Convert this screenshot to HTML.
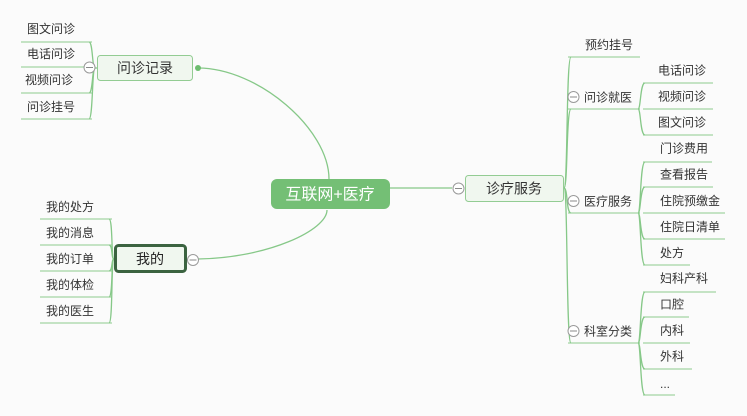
<!DOCTYPE html>
<html><head><meta charset="utf-8">
<style>
html,body{margin:0;padding:0;background:#fbfbfb;}
svg{display:block;}
text{font-family:"Liberation Sans","Noto Sans CJK SC",sans-serif;}
</style></head>
<body>
<svg width="747" height="416" viewBox="0 0 747 416" xmlns="http://www.w3.org/2000/svg">
<rect width="747" height="416" fill="#fbfbfb"/>
<g fill="none" stroke="#86c888" stroke-width="1.3">
<!-- main curves -->
<path d="M198,68 C258,68 329,129 329,179"/>
<path d="M327,210 C327,230 268,258 198,259"/>
<path d="M390,188 L452,188"/>
<!-- left spine 问诊记录 -->
<path d="M97,68 L95,68"/>
<path d="M95,68 C92,68 93,42 89,42"/>
<path d="M95,68 C92,68 93,67 89,67"/>
<path d="M95,68 C92,68 93,93 89,93"/>
<path d="M95,68 C92,68 93,119 89,119"/>
<!-- left spine 我的 -->
<path d="M114,259 C111,259 113,219 109,219"/>
<path d="M114,259 C111,259 113,245 109,245"/>
<path d="M114,259 C111,259 113,271 109,271"/>
<path d="M114,259 C111,259 113,297 109,297"/>
<path d="M114,259 C111,259 113,323 109,323"/>
<!-- right spine -->
<path d="M564,188 C568,188 566,57 571,57"/>
<path d="M564,188 C568,188 566,109 571,109"/>
<path d="M564,188 C568,188 566,213 571,213"/>
<path d="M564,188 C568,188 566,343 571,343"/>
<!-- sub spines -->
<path d="M638,109 C641,109 640,83 645,83"/>
<path d="M638,109 C641,109 640,135 645,135"/>
<path d="M638,213 C641,213 640,162 645,162"/>
<path d="M638,213 C641,213 640,187 645,187"/>
<path d="M638,213 C641,213 640,239 645,239"/>
<path d="M638,213 C641,213 640,265 645,265"/>
<path d="M638,343 C641,343 640,292 645,292"/>
<path d="M638,343 C641,343 640,317 645,317"/>
<path d="M638,343 C641,343 640,369 645,369"/>
<path d="M638,343 C641,343 640,395 645,395"/>
</g>
<g stroke="#8ccb8e" stroke-width="1">
<!-- left leaves underlines -->
<line x1="21" y1="42" x2="92" y2="42"/>
<line x1="21" y1="67" x2="92" y2="67"/>
<line x1="21" y1="93" x2="92" y2="93"/>
<line x1="21" y1="119" x2="92" y2="119"/>
<line x1="40" y1="219" x2="112" y2="219"/>
<line x1="40" y1="245" x2="112" y2="245"/>
<line x1="40" y1="271" x2="112" y2="271"/>
<line x1="40" y1="297" x2="112" y2="297"/>
<line x1="40" y1="323" x2="112" y2="323"/>
<!-- right branch underlines -->
<line x1="568" y1="57" x2="640" y2="57"/>
<line x1="568" y1="109" x2="640" y2="109"/>
<line x1="568" y1="213" x2="640" y2="213"/>
<line x1="568" y1="343" x2="640" y2="343"/>
<!-- right leaf underlines -->
<line x1="643" y1="83" x2="713" y2="83"/>
<line x1="643" y1="109" x2="713" y2="109"/>
<line x1="643" y1="135" x2="713" y2="135"/>
<line x1="643" y1="162" x2="712" y2="162"/>
<line x1="643" y1="187" x2="713" y2="187"/>
<line x1="643" y1="213" x2="725" y2="213"/>
<line x1="643" y1="239" x2="725" y2="239"/>
<line x1="643" y1="265" x2="690" y2="265"/>
<line x1="643" y1="292" x2="716" y2="292"/>
<line x1="643" y1="317" x2="689" y2="317"/>
<line x1="643" y1="343" x2="690" y2="343"/>
<line x1="643" y1="369" x2="692" y2="369"/>
<line x1="643" y1="395" x2="675" y2="395"/>
</g>
<!-- nodes -->
<rect x="271" y="179" width="119" height="30" rx="6" fill="#74bf75"/>
<text x="330" y="199.5" font-size="16" fill="#ffffff" text-anchor="middle">互联网+医疗</text>
<rect x="97.5" y="55.5" width="95" height="25" rx="3" fill="#f0f7ef" stroke="#93cc93" stroke-width="1"/>
<text x="145" y="73" font-size="14" fill="#333" text-anchor="middle">问诊记录</text>
<rect x="465.5" y="175.5" width="98" height="26" rx="3" fill="#f0f7ef" stroke="#93cc93" stroke-width="1"/>
<text x="514" y="193.5" font-size="14" fill="#333" text-anchor="middle">诊疗服务</text>
<rect x="115.5" y="245.5" width="70" height="26" rx="3" fill="#f0f7ef" stroke="#3b6340" stroke-width="3"/>
<text x="150" y="264" font-size="14" fill="#222" text-anchor="middle">我的</text>
<!-- dot -->
<circle cx="198" cy="68" r="3" fill="#6dbd6f"/>
<!-- collapse circles -->
<g fill="#ffffff" stroke="#9a9a9a" stroke-width="1">
<circle cx="89.5" cy="67.5" r="5.5"/>
<circle cx="193" cy="260" r="5.5"/>
<circle cx="458.5" cy="188.5" r="5.5"/>
<circle cx="573.5" cy="97" r="5.5"/>
<circle cx="573.5" cy="201" r="5.5"/>
<circle cx="573.5" cy="331" r="5.5"/>
</g>
<g stroke="#8a8a8a" stroke-width="1">
<line x1="86" y1="67.5" x2="93" y2="67.5"/>
<line x1="189.5" y1="260" x2="196.5" y2="260"/>
<line x1="455" y1="188.5" x2="462" y2="188.5"/>
<line x1="570" y1="97" x2="577" y2="97"/>
<line x1="570" y1="201" x2="577" y2="201"/>
<line x1="570" y1="331" x2="577" y2="331"/>
</g>
<!-- leaf texts -->
<g font-size="12" fill="#333">
<text x="27" y="33">图文问诊</text>
<text x="27" y="58">电话问诊</text>
<text x="25" y="84">视频问诊</text>
<text x="27" y="111">问诊挂号</text>
<text x="46" y="211">我的处方</text>
<text x="46" y="237">我的消息</text>
<text x="46" y="263">我的订单</text>
<text x="46" y="289">我的体检</text>
<text x="46" y="315">我的医生</text>
<text x="585" y="49">预约挂号</text>
<text x="584" y="101.5">问诊就医</text>
<text x="584" y="205.5">医疗服务</text>
<text x="584" y="335.5">科室分类</text>
<text x="658" y="74.5">电话问诊</text>
<text x="658" y="100.5">视频问诊</text>
<text x="658" y="126.5">图文问诊</text>
<text x="660" y="152.5">门诊费用</text>
<text x="660" y="178.5">查看报告</text>
<text x="660" y="205">住院预缴金</text>
<text x="660" y="231">住院日清单</text>
<text x="660" y="257">处方</text>
<text x="660" y="282.5">妇科产科</text>
<text x="660" y="308.5">口腔</text>
<text x="660" y="334.5">内科</text>
<text x="660" y="360.5">外科</text>
<text x="660" y="388">...</text>
</g>
</svg>
</body></html>
